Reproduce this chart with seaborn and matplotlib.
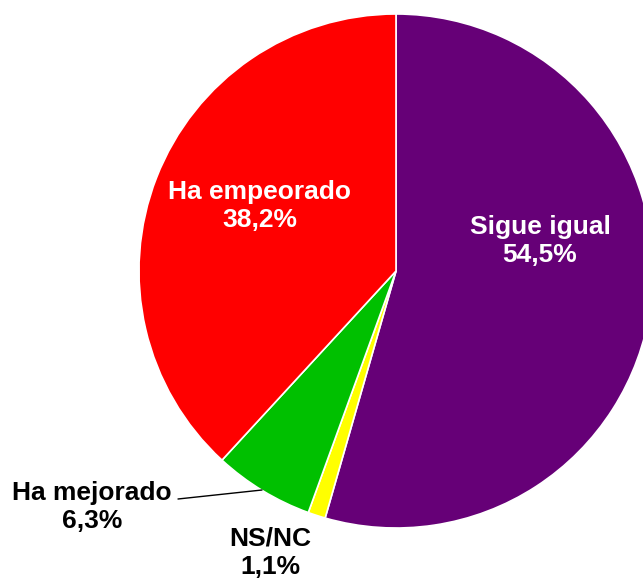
import matplotlib
matplotlib.use("Agg")
import matplotlib.pyplot as plt
import seaborn as sns

# datos
categorias = ["Sigue igual", "NS/NC", "Ha mejorado", "Ha empeorado"]
valores = [54.5, 1.1, 6.3, 38.2]
colores = ["#660077", "#FFFF00", "#00C000", "#FF0000"]
etiquetas = ["Sigue igual\n54,5%", "NS/NC\n1,1%", "Ha mejorado\n6,3%", "Ha empeorado\n38,2%"]

sns.set_style("white")
plt.rcParams["font.family"] = ["Liberation Sans", "DejaVu Sans"]

W, H = 643, 578
fig = plt.figure(figsize=(W / 100, H / 100), dpi=100)
ax = fig.add_axes([0, 0, 1, 1])

cx, cy, r = 396, H - 271, 257
ax.pie(valores, colors=colores, startangle=90, counterclock=False,
       center=(cx, cy), radius=r, frame=True,
       wedgeprops=dict(edgecolor="white", linewidth=1.2))
ax.set_xlim(0, W)
ax.set_ylim(0, H)
ax.set_aspect("equal")
ax.axis("off")

# etiquetas
pos = {
    "Sigue igual": (540, H - 241, "white"),
    "Ha empeorado": (260, H - 206, "white"),
    "Ha mejorado": (92, H - 507, "black"),
    "NS/NC": (270, H - 553, "black"),
}
for cat, txt in zip(categorias, etiquetas):
    x, y, c = pos[cat]
    ax.text(x, y, txt, ha="center", va="center", color=c, fontsize=19,
            fontweight="bold", linespacing=1.25)

ax.plot([178, 262], [H - 499, H - 490], color="black", linewidth=1)

fig.savefig("out.png", dpi=100)
